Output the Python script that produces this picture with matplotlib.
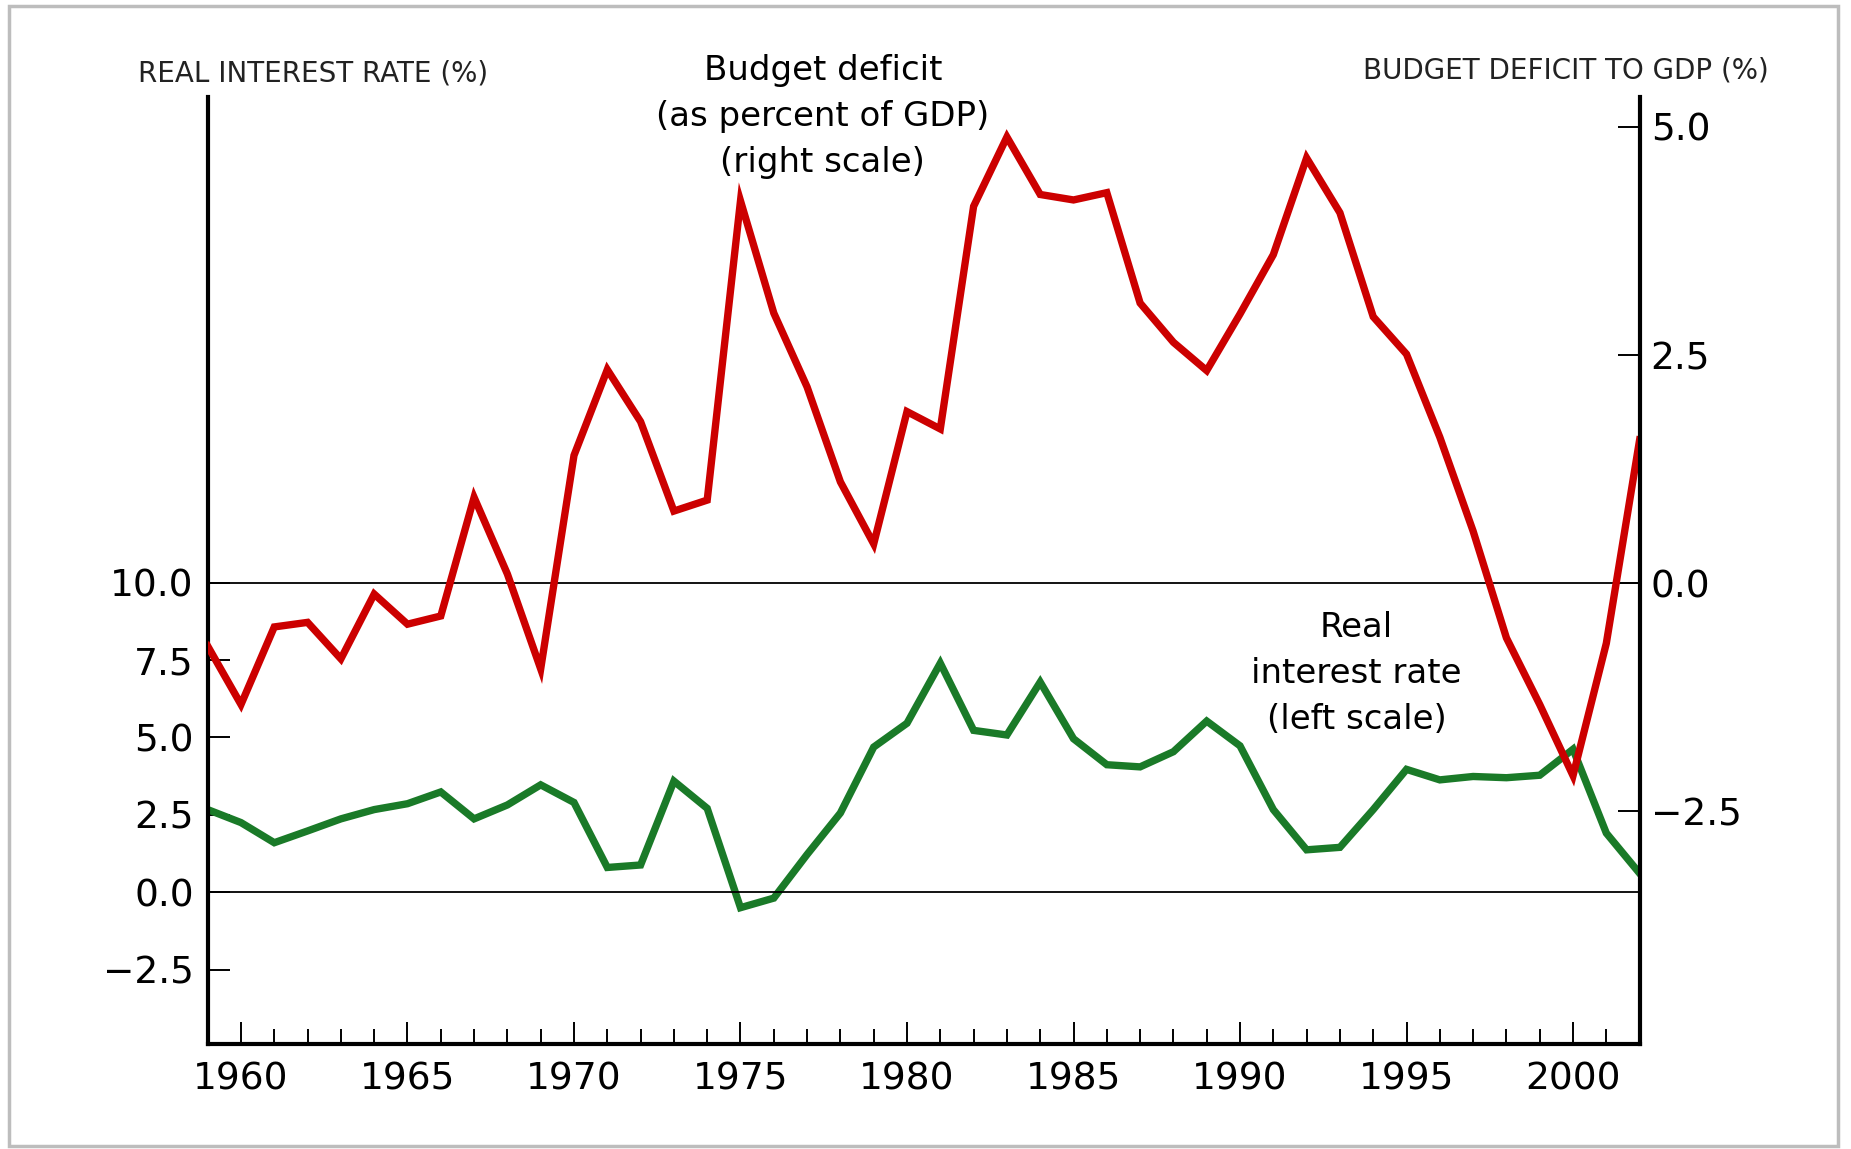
import matplotlib
matplotlib.use("Agg")
import matplotlib.pyplot as plt
from matplotlib.patches import Rectangle
from matplotlib.ticker import MultipleLocator, FuncFormatter

# years 1959 - 2002
years = list(range(1959, 2003))

# budget deficit as percent of GDP (right scale)
deficit = [-0.69, -1.33, -0.48, -0.43, -0.83, -0.12, -0.45, -0.36, 0.94, 0.10,
           -0.94, 1.40, 2.34, 1.77, 0.79, 0.91, 4.19, 2.96, 2.15, 1.11,
           0.43, 1.88, 1.69, 4.13, 4.89, 4.26, 4.20, 4.28, 3.07, 2.64,
           2.33, 2.95, 3.60, 4.66, 4.06, 2.92, 2.51, 1.60, 0.57, -0.60,
           -1.33, -2.11, -0.66, 1.57]

# real interest rate (left scale)
real_rate = [2.67, 2.25, 1.60, 1.98, 2.37, 2.67, 2.86, 3.24, 2.37, 2.82,
             3.47, 2.90, 0.80, 0.88, 3.59, 2.71, -0.50, -0.19, 1.22, 2.56,
             4.69, 5.46, 7.40, 5.23, 5.08, 6.79, 4.96, 4.12, 4.05, 4.54,
             5.53, 4.73, 2.67, 1.37, 1.45, 2.67, 3.97, 3.63, 3.74, 3.70,
             3.78, 4.62, 1.91, 0.61]

left_ticks = [-2.5, 0.0, 2.5, 5.0, 7.5, 10.0]
right_ticks = [-2.5, 0.0, 2.5, 5.0]
year_labels = list(range(1960, 2001, 5))

RED = "#cc0000"
GREEN = "#1a7a28"


def one_decimal(v, pos):
    return f"{v:.1f}".replace("-", "\u2212")


fig = plt.figure(figsize=(18.51, 11.49), dpi=100)

# light grey frame round the figure
fig.patches.append(Rectangle((0.005, 0.003), 0.988, 0.992, transform=fig.transFigure,
                             fill=False, edgecolor="#bdbdbd", linewidth=2.5))

ax1 = fig.add_axes([0.1122, 0.0915, 0.7736, 0.8242])
ax2 = ax1.twinx()

ax1.plot(years, real_rate, color=GREEN, lw=5.3, solid_joinstyle="miter")
ax2.plot(years, deficit, color=RED, lw=5.3, solid_joinstyle="miter")

ax1.axhline(0, color="black", lw=1.3)
ax1.axhline(10, color="black", lw=1.3)

ax1.set_xlim(1959, 2002)
ax1.set_ylim(-4.9, 25.7)
ax2.set_ylim(-5.05, 5.33)

ax1.set_xticks(year_labels)
ax1.xaxis.set_minor_locator(MultipleLocator(1))
ax1.set_yticks(left_ticks)
ax2.set_yticks(right_ticks)
ax1.yaxis.set_major_formatter(FuncFormatter(one_decimal))
ax2.yaxis.set_major_formatter(FuncFormatter(one_decimal))

ax1.tick_params(axis="x", which="major", direction="in", length=16, width=1.4,
                labelsize=27, pad=13)
ax1.tick_params(axis="x", which="minor", direction="in", length=11, width=1.4)
ax1.tick_params(axis="y", direction="in", length=16, width=1.4, labelsize=27, pad=10)
ax2.tick_params(axis="y", direction="in", length=16, width=1.4, labelsize=27, pad=8)

for ax in (ax1, ax2):
    ax.spines["top"].set_visible(False)
    for s in ("left", "right", "bottom"):
        ax.spines[s].set_linewidth(3)
ax1.spines["right"].set_visible(False)
ax2.spines["left"].set_visible(False)
ax2.spines["bottom"].set_visible(False)

narrow = ["Liberation Sans Narrow", "DejaVu Sans"]
fig.text(0.169, 0.936, "REAL INTEREST RATE (%)", ha="center", va="center",
         fontsize=20, family=narrow, color="#222222")
fig.text(0.846, 0.939, "BUDGET DEFICIT TO GDP (%)", ha="center", va="center",
         fontsize=20, family=narrow, color="#222222")

fig.text(0.4445, 0.899, "Budget deficit\n(as percent of GDP)\n(right scale)",
         ha="center", va="center", fontsize=24.5, linespacing=1.5)
fig.text(0.7328, 0.414, "Real\ninterest rate\n(left scale)",
         ha="center", va="center", fontsize=24.5, linespacing=1.5)

fig.savefig("out.png", dpi=100)
